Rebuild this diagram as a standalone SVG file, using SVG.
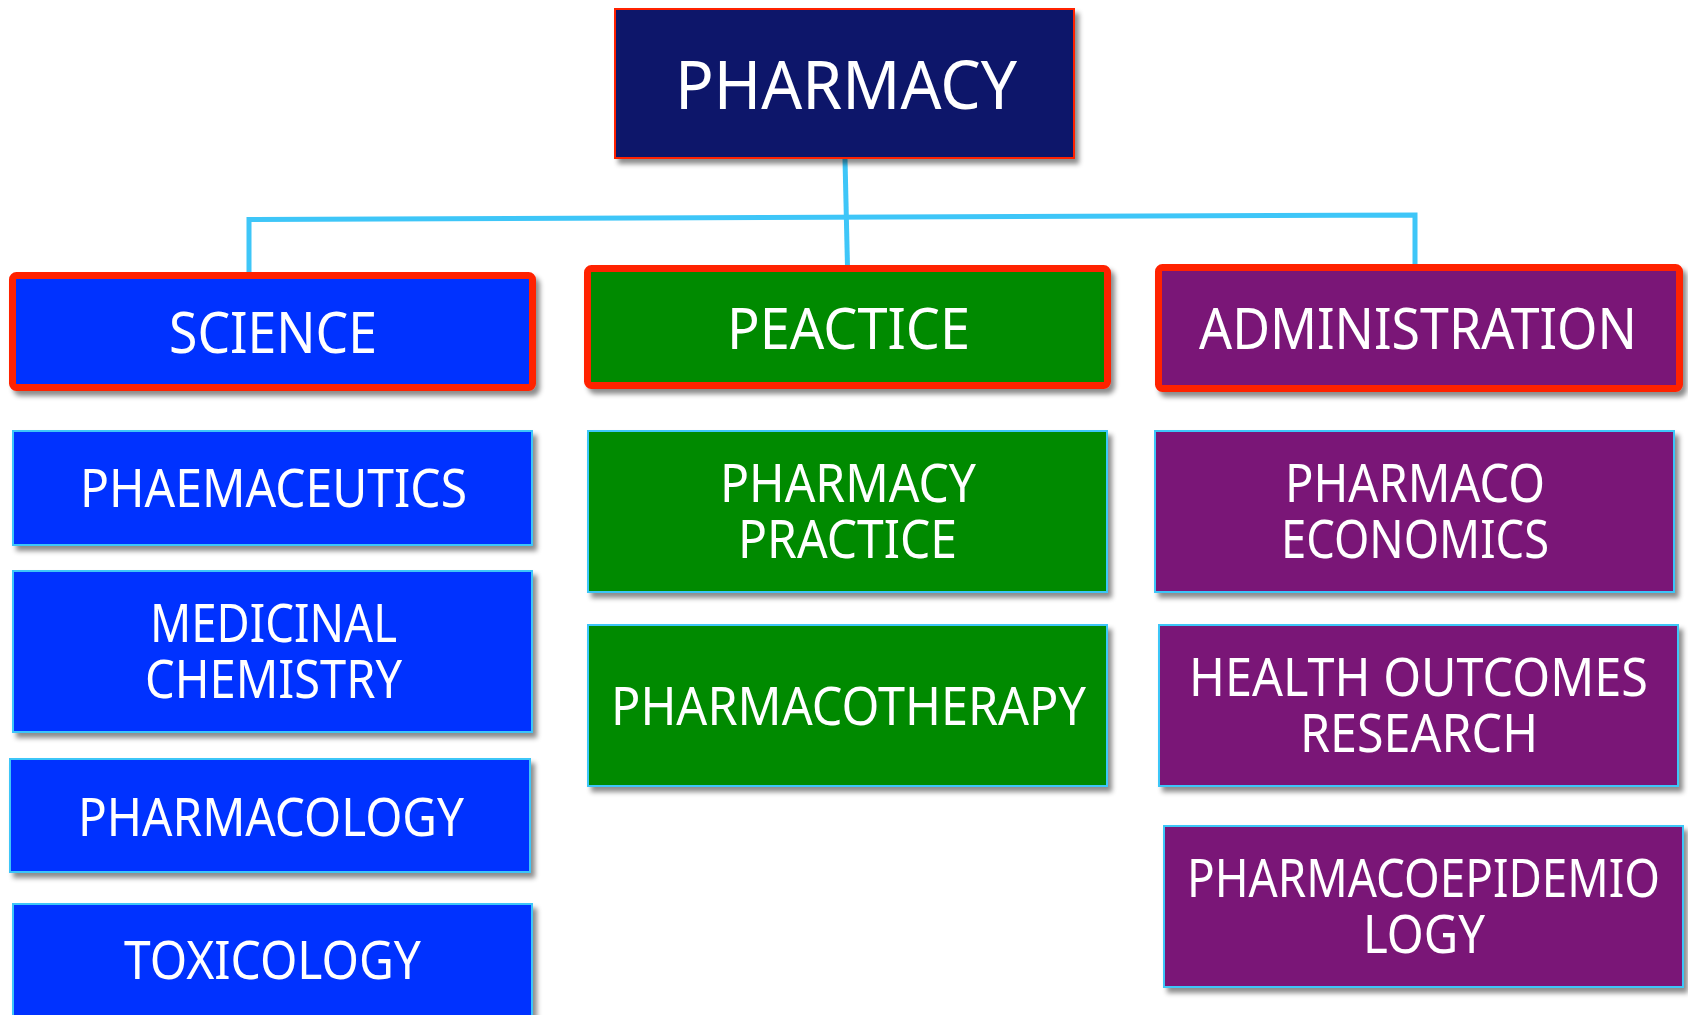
<svg xmlns="http://www.w3.org/2000/svg" width="1688" height="1015" viewBox="0 0 1688 1015">
<defs>
<filter id="sh" x="-5%" y="-10%" width="115%" height="130%">
<feDropShadow dx="4" dy="5" stdDeviation="2.5" flood-color="#000" flood-opacity="0.45"/>
</filter>
<style>
text{font-family:"Noto Sans","Open Sans","DejaVu Sans",sans-serif;fill:#fff;}
.t{font-size:57px;}
.s{font-size:52px;}
.top{font-size:68px;}
.hd{stroke:#ff2200;stroke-width:7;}
.sub{stroke:#3ec6f8;stroke-width:2;}
.navy{fill:#10166a;}
.blue{fill:#0433ff;}
.green{fill:#028a00;}
.purple{fill:#7a1977;}
.conn{stroke:#3ec6f8;stroke-width:5;fill:none;}
</style>
</defs>
<rect width="1688" height="1015" fill="#fff"/>
<g id="connectors">
<path class="conn" d="M845,159 L847.5,267"/>
<path class="conn" d="M249,273 L249,219.5 L1415,215 L1415,264"/>
</g>
<g id="pharmacy">
<rect class="navy" x="615" y="9" width="459" height="149" stroke="#ff2200" stroke-width="2" filter="url(#sh)"/>
<text class="top" x="675" y="109" textLength="342" lengthAdjust="spacingAndGlyphs">PHARMACY</text>
</g>
<g id="science">
<rect class="blue hd" x="12.5" y="275.5" width="520" height="112" rx="4" filter="url(#sh)"/>
<text class="t" x="169" y="353" textLength="208" lengthAdjust="spacingAndGlyphs">SCIENCE</text>
</g>
<g id="peactice">
<rect class="green hd" x="587.5" y="268.5" width="520" height="117" rx="4" filter="url(#sh)"/>
<text class="t" x="727" y="349" textLength="243" lengthAdjust="spacingAndGlyphs">PEACTICE</text>
</g>
<g id="administration">
<rect class="purple hd" x="1158.5" y="267.5" width="521" height="121" rx="4" filter="url(#sh)"/>
<text class="t" x="1199" y="349" textLength="438" lengthAdjust="spacingAndGlyphs">ADMINISTRATION</text>
</g>
<g id="phaemaceutics">
<rect class="blue sub" x="13" y="431" width="519" height="114" filter="url(#sh)"/>
<text class="s" x="80" y="507" textLength="387" lengthAdjust="spacingAndGlyphs">PHAEMACEUTICS</text>
</g>
<g id="medicinal-chemistry">
<rect class="blue sub" x="13" y="571" width="519" height="161" filter="url(#sh)"/>
<text class="s" x="150" y="642" textLength="247" lengthAdjust="spacingAndGlyphs">MEDICINAL</text>
<text class="s" x="145" y="698" textLength="257" lengthAdjust="spacingAndGlyphs">CHEMISTRY</text>
</g>
<g id="pharmacology">
<rect class="blue sub" x="10" y="759" width="520" height="113" filter="url(#sh)"/>
<text class="s" x="78" y="836" textLength="386" lengthAdjust="spacingAndGlyphs">PHARMACOLOGY</text>
</g>
<g id="toxicology">
<rect class="blue sub" x="13" y="904" width="519" height="130" filter="url(#sh)"/>
<text class="s" x="124" y="979" textLength="297" lengthAdjust="spacingAndGlyphs">TOXICOLOGY</text>
</g>
<g id="pharmacy-practice">
<rect class="green sub" x="588" y="431" width="519" height="161" filter="url(#sh)"/>
<text class="s" x="720" y="502" textLength="256" lengthAdjust="spacingAndGlyphs">PHARMACY</text>
<text class="s" x="738" y="558" textLength="219" lengthAdjust="spacingAndGlyphs">PRACTICE</text>
</g>
<g id="pharmacotherapy">
<rect class="green sub" x="588" y="625" width="519" height="161" filter="url(#sh)"/>
<text class="s" x="611" y="725" textLength="475" lengthAdjust="spacingAndGlyphs">PHARMACOTHERAPY</text>
</g>
<g id="pharmaco-economics">
<rect class="purple sub" x="1155" y="431" width="519" height="161" filter="url(#sh)"/>
<text class="s" x="1285" y="502" textLength="260" lengthAdjust="spacingAndGlyphs">PHARMACO</text>
<text class="s" x="1281" y="558" textLength="268" lengthAdjust="spacingAndGlyphs">ECONOMICS</text>
</g>
<g id="health-outcomes-research">
<rect class="purple sub" x="1159" y="625" width="519" height="161" filter="url(#sh)"/>
<text class="s" x="1189" y="696" textLength="459" lengthAdjust="spacingAndGlyphs">HEALTH OUTCOMES</text>
<text class="s" x="1300" y="752" textLength="238" lengthAdjust="spacingAndGlyphs">RESEARCH</text>
</g>
<g id="pharmacoepidemiology">
<rect class="purple sub" x="1164" y="826" width="519" height="161" filter="url(#sh)"/>
<text class="s" x="1187" y="897" textLength="473" lengthAdjust="spacingAndGlyphs">PHARMACOEPIDEMIO</text>
<text class="s" x="1363" y="953" textLength="122" lengthAdjust="spacingAndGlyphs">LOGY</text>
</g>
</svg>
